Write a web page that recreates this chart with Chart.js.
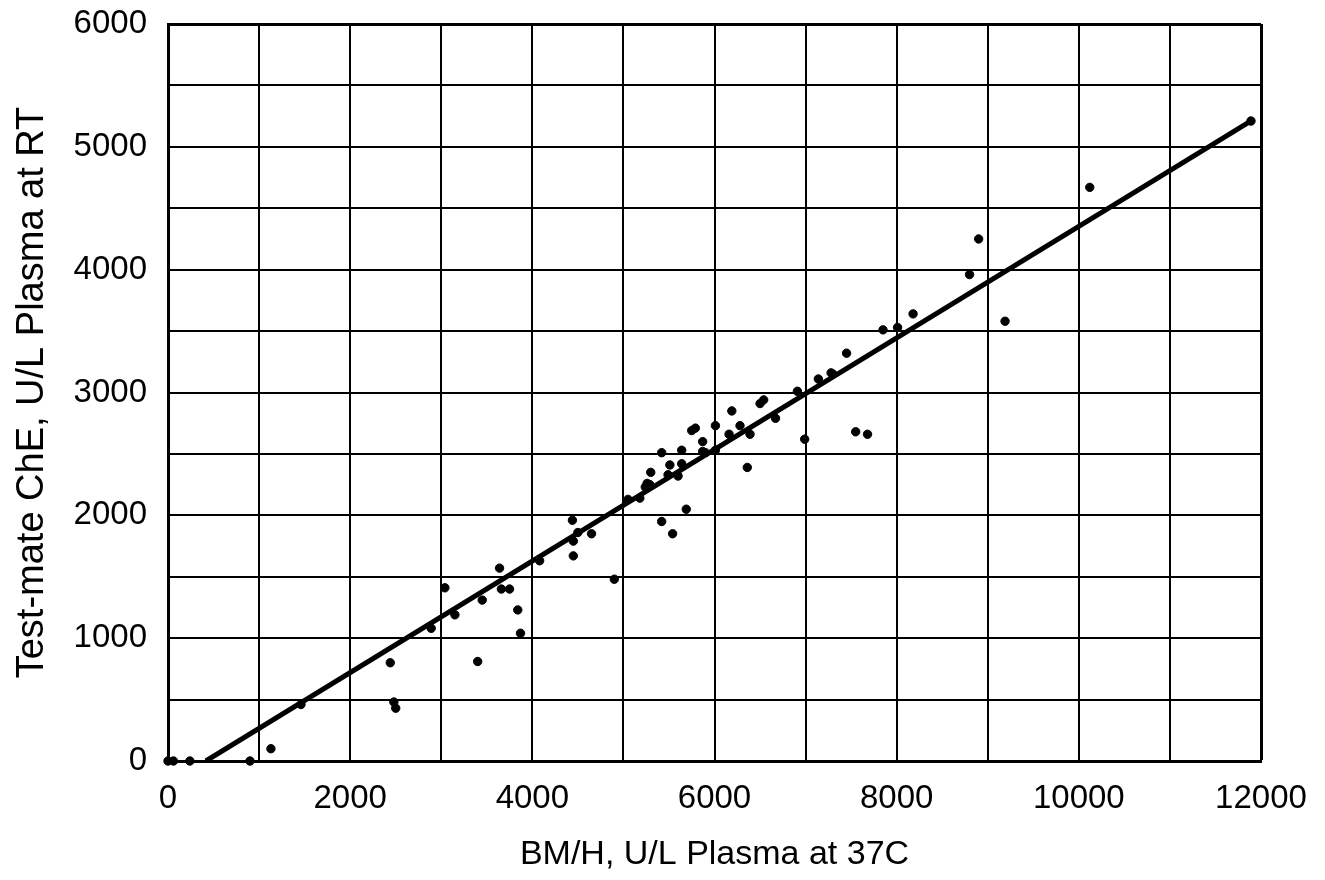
<!DOCTYPE html>
<html>
<head>
<meta charset="utf-8">
<script src="https://cdn.jsdelivr.net/npm/chart.js@4"></script>
<style>
  html, body { margin: 0; padding: 0; background: #fff; }
  #wrap { width: 1325px; height: 880px; }
</style>
</head>
<body>
<div id="wrap"><canvas id="myChart"></canvas></div>
<script>
const bmhValues = [0, 60, 240, 900, 1130, 1460, 2440, 2480, 2500, 2890, 3040, 3150, 3400, 3450,
    3640, 3660, 3750, 3840, 3870, 4080, 4440, 4450, 4450, 4500, 4650, 4900, 5050, 5180, 5240,
    5260, 5290, 5300, 5420, 5420, 5490, 5510, 5540, 5600, 5640, 5640, 5690, 5750, 5790, 5870,
    5870, 5900, 6010, 6010, 6160, 6190, 6280, 6360, 6390, 6500, 6540, 6670, 6910, 6990, 7140,
    7280, 7300, 7450, 7550, 7680, 7850, 8010, 8180, 8800, 8900, 9190, 10120, 11890];
const testmateValues = [0, 0, 0, 0, 100, 460, 800, 480, 430, 1080, 1410, 1190, 810, 1310,
    1570, 1400, 1400, 1230, 1040, 1630, 1960, 1790, 1670, 1860, 1850, 1480, 2130, 2140, 2230,
    2260, 2250, 2350, 2510, 1950, 2330, 2410, 1850, 2320, 2420, 2530, 2050, 2690, 2710, 2600,
    2520, 2510, 2730, 2530, 2660, 2850, 2730, 2390, 2660, 2910, 2940, 2790, 3010, 2620, 3110,
    3160, 3150, 3320, 2680, 2660, 3510, 3530, 3640, 3960, 4250, 3580, 4670, 5210];

// regression line ends
const fitX = [416, 11900];
const fitY = [0, 5215];

const xTicks = [0, 2000, 4000, 6000, 8000, 10000, 12000];
const yTicks = [0, 1000, 2000, 3000, 4000, 5000, 6000];

const points = bmhValues.map((x, i) => ({ x: x, y: testmateValues[i] }));
const fitLine = fitX.map((x, i) => ({ x: x, y: fitY[i] }));

const fontFamily = '"Liberation Sans", Arial, sans-serif';
const canvas = document.getElementById('myChart');

new Chart(canvas.getContext('2d'), {
    type: 'scatter',
    data: {
        datasets: [{
            data: points,
            backgroundColor: '#000',
            borderColor: '#000',
            pointRadius: 4.2,
            pointHoverRadius: 4.2,
            clip: 8
        }, {
            type: 'line',
            data: fitLine,
            borderColor: '#000',
            borderWidth: 5,
            pointRadius: 0,
            fill: false
        }]
    },
    options: {
        responsive: true,
        maintainAspectRatio: false,
        animation: false,
        layout: { padding: { top: 24, right: 64, left: 0, bottom: 0 } },
        plugins: {
            legend: { display: false },
            tooltip: { enabled: false }
        },
        scales: {
            x: {
                type: 'linear',
                min: 0,
                max: 12000,
                afterFit: (scale) => { scale.height = 119; },
                grid: {
                    color: '#000',
                    lineWidth: (c) => c.tick && c.tick.value === 12000 ? 3 : 2,
                    drawTicks: false
                },
                border: { color: '#000', width: 3 },
                ticks: {
                    stepSize: 1000,
                    autoSkip: false,
                    maxRotation: 0,
                    padding: 18,
                    color: '#000',
                    font: { family: fontFamily, size: 33 },
                    callback: (v) => xTicks.includes(v) ? String(v) : ''
                },
                title: {
                    display: true,
                    text: 'BM/H, U/L Plasma at 37C',
                    color: '#000',
                    font: { family: fontFamily, size: 34 },
                    padding: { top: 0, bottom: 5 }
                }
            },
            y: {
                type: 'linear',
                min: 0,
                max: 6000,
                afterFit: (scale) => {
                    scale.width = 168;
                    scale.paddingTop = 0;
                    scale.paddingBottom = 0;
                },
                grid: {
                    color: '#000',
                    lineWidth: (c) => c.tick && c.tick.value === 6000 ? 3 : 2,
                    drawTicks: false
                },
                border: { color: '#000', width: 3 },
                ticks: {
                    stepSize: 500,
                    autoSkip: false,
                    padding: 21,
                    color: '#000',
                    font: { family: fontFamily, size: 33 },
                    callback: (v) => yTicks.includes(v) ? String(v) : ''
                },
                title: {
                    display: true,
                    text: 'Test-mate ChE, U/L Plasma at RT',
                    color: '#000',
                    font: { family: fontFamily, size: 38 },
                    padding: { top: 10, bottom: 0 }
                }
            }
        }
    }
});
</script>
</body>
</html>
